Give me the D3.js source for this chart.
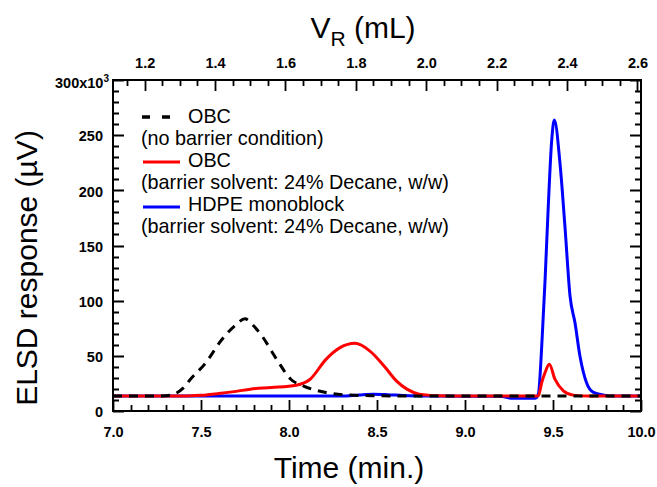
<!DOCTYPE html>
<html><head><meta charset="utf-8">
<script src="https://cdn.jsdelivr.net/npm/d3@7"></script>
<style>
body{margin:0;background:#fff}
svg{display:block}
text{font-family:"Liberation Sans",Arial,sans-serif;fill:#000}
</style></head><body>
<svg id="chart" width="657" height="487"></svg>
<script>
// ---- data (time in min, ELSD response in 10^3 µV) ----
const timeOBCnoBarrier = [7.00,7.20,7.30,7.35,7.40,7.44,7.52,7.62,7.69,7.75,7.80,7.84,7.93,8.01,8.08,8.21,8.35,8.50,8.70,9.00,9.50,10.00];
const valOBCnoBarrier  = [13.5,13.5,13.8,15.5,21.0,28.8,42.3,65.0,77.0,83.5,77.0,69.4,46.8,28.8,22.8,16.8,14.4,13.8,13.5,13.5,13.5,13.5];

const timeOBCbarrier = [7.00,7.40,7.50,7.60,7.70,7.78,7.90,8.04,8.12,8.21,8.29,8.375,8.46,8.54,8.61,8.67,8.74,8.85,9.00,9.40,9.417,9.436,9.455,9.479,9.511,9.559,9.615,9.70,10.00];
const valOBCbarrier  = [13.5,13.5,14.2,15.8,17.8,19.8,21.3,23.4,28.8,46.8,57.4,61.3,54.3,40.8,27.3,19.8,15.3,13.8,13.5,13.5,13.8,25.8,34.9,42.3,28.8,18.3,14.4,13.5,13.5];

const timeHDPE = [7.00,8.30,8.40,8.48,8.56,8.65,8.80,9.20,9.27,9.40,9.417,9.436,9.455,9.473,9.4925,9.5075,9.54,9.568,9.597,9.625,9.653,9.69,9.73,9.79,9.85,10.00];
const valHDPE  = [13.5,13.5,14.6,15.2,14.8,14.0,13.5,13.3,11.5,11.5,15.3,58.8,118.9,185.0,245.0,263.7,224.0,167.0,103.9,79.9,49.8,25.8,16.8,14.4,13.5,13.5];

const timeTicks = [7.0,7.5,8.0,8.5,9.0,9.5,10.0];
const respTicks = [0,50,100,150,200,250,300];
const vrTicks   = [1.2,1.4,1.6,1.8,2.0,2.2,2.4,2.6];
const timeDomain = [7,10];
const respDomain = [0,300];
const vrDomain   = [1.11,2.61];

const legendNames = ["OBC","(no barrier condition)","OBC","(barrier solvent: 24% Decane, w/w)","HDPE monoblock","(barrier solvent: 24% Decane, w/w)"];

// ---- layout ----
const L=113,R=641,T=80,B=411;
const svg = d3.select("#chart");
const x = d3.scaleLinear().domain(timeDomain).range([L,R]);
const y = d3.scaleLinear().domain(respDomain).range([B,T]);
const v = d3.scaleLinear().domain(vrDomain).range([L,R]);

function styleAxis(g){
  g.select(".domain").remove();
  g.selectAll(".tick line").remove();
  g.selectAll("text").attr("font-size",14.5).attr("font-weight","bold").attr("fill","#000")
    .style("font-family",'"Liberation Sans",Arial,sans-serif');
}

// minor tick positions
const minorT = d3.range(7,10.0001,0.1);
const minorY = d3.range(0,300.001,10);
const minorV = d3.range(1.15,2.6001,0.05);

// tick labels
svg.append("g").attr("transform",`translate(0,${B})`)
  .call(d3.axisBottom(x).tickValues(timeTicks).tickSize(0).tickPadding(16).tickFormat(d3.format(".1f"))).call(styleAxis);
svg.append("g").attr("transform",`translate(0,${T})`)
  .call(d3.axisTop(v).tickValues(vrTicks).tickSize(0).tickPadding(12).tickFormat(d3.format(".1f"))).call(styleAxis);
const yAx = svg.append("g").attr("transform",`translate(${L},0)`)
  .call(d3.axisLeft(y).tickValues(respTicks).tickSize(0).tickPadding(10).tickFormat(d3.format("d"))).call(styleAxis);
yAx.selectAll("text").attr("dy","0.4em");
yAx.selectAll(".tick").filter(d=>d===300).select("text").each(function(){
  const t=d3.select(this); t.text(null).attr("x",-4).attr("dy","0.55em");
  t.append("tspan").text("300x10");
  t.append("tspan").text("3").attr("font-size",10).attr("dy","-0.6em");
});

// curves
const line = d3.line().x(d=>x(d[0])).y(d=>y(d[1])).curve(d3.curveMonotoneX);
const zip = (a,b)=>a.map((t,i)=>[t,b[i]]);
svg.append("path").datum(zip(timeHDPE,valHDPE)).attr("d",line)
  .attr("fill","none").attr("stroke","#0000ff").attr("stroke-width",3);
svg.append("path").datum(zip(timeOBCbarrier,valOBCbarrier)).attr("d",line)
  .attr("fill","none").attr("stroke","#ff0000").attr("stroke-width",3);
svg.append("path").datum(zip(timeOBCnoBarrier,valOBCnoBarrier)).attr("d",line)
  .attr("fill","none").attr("stroke","#000").attr("stroke-width",3).attr("stroke-dasharray","9,7");

// frame
svg.append("rect").attr("x",L).attr("y",T).attr("width",R-L).attr("height",B-T)
  .attr("fill","none").attr("stroke","#000").attr("stroke-width",2);

// inward tick marks on all four sides (one path, positions from the scales)
const tp = d3.path();
const px = s => Math.round(s)+0.5;
minorT.forEach(d=>{ tp.moveTo(px(x(d)),B); tp.lineTo(px(x(d)),B-6); });
timeTicks.forEach(d=>{ tp.moveTo(px(x(d)),B); tp.lineTo(px(x(d)),B-11); });
minorV.forEach(d=>{ tp.moveTo(px(v(d)),T); tp.lineTo(px(v(d)),T+6); });
vrTicks.forEach(d=>{ tp.moveTo(px(v(d)),T); tp.lineTo(px(v(d)),T+11); });
minorY.forEach(d=>{ tp.moveTo(L,px(y(d))); tp.lineTo(L+6,px(y(d))); tp.moveTo(R,px(y(d))); tp.lineTo(R-6,px(y(d))); });
respTicks.forEach(d=>{ tp.moveTo(L,px(y(d))); tp.lineTo(L+11,px(y(d))); tp.moveTo(R,px(y(d))); tp.lineTo(R-11,px(y(d))); });
svg.append("path").attr("d",tp.toString()).attr("fill","none").attr("stroke","#000").attr("stroke-width",1.8);

// legend
const lg = svg.append("g");
lg.append("line").attr("x1",142).attr("x2",170).attr("y1",117).attr("y2",117)
  .attr("stroke","#000").attr("stroke-width",3.5).attr("stroke-dasharray","8,12");
lg.append("line").attr("x1",143).attr("x2",180).attr("y1",162).attr("y2",162)
  .attr("stroke","#ff0000").attr("stroke-width",3);
lg.append("line").attr("x1",143).attr("x2",180).attr("y1",207).attr("y2",207)
  .attr("stroke","#0000ff").attr("stroke-width",3);
const lx=[188,141,188,141,188,141];
legendNames.forEach((s,i)=>{
  lg.append("text").attr("x",lx[i]).attr("y",123+22*i).attr("font-size",19.8).text(s);
});

// axis titles
svg.append("text").attr("x",349).attr("y",478).attr("text-anchor","middle").attr("font-size",30).text("Time (min.)");
svg.append("text").attr("transform","translate(37,268) rotate(-90)").attr("text-anchor","middle")
  .attr("font-size",30).text("ELSD response (\u00B5V)");
const vt = svg.append("text").attr("x",363).attr("y",38).attr("text-anchor","middle").attr("font-size",30);
vt.append("tspan").text("V");
vt.append("tspan").text("R").attr("font-size",21).attr("dy",8);
vt.append("tspan").text(" (mL)").attr("dy",-8);
</script>
</body></html>
